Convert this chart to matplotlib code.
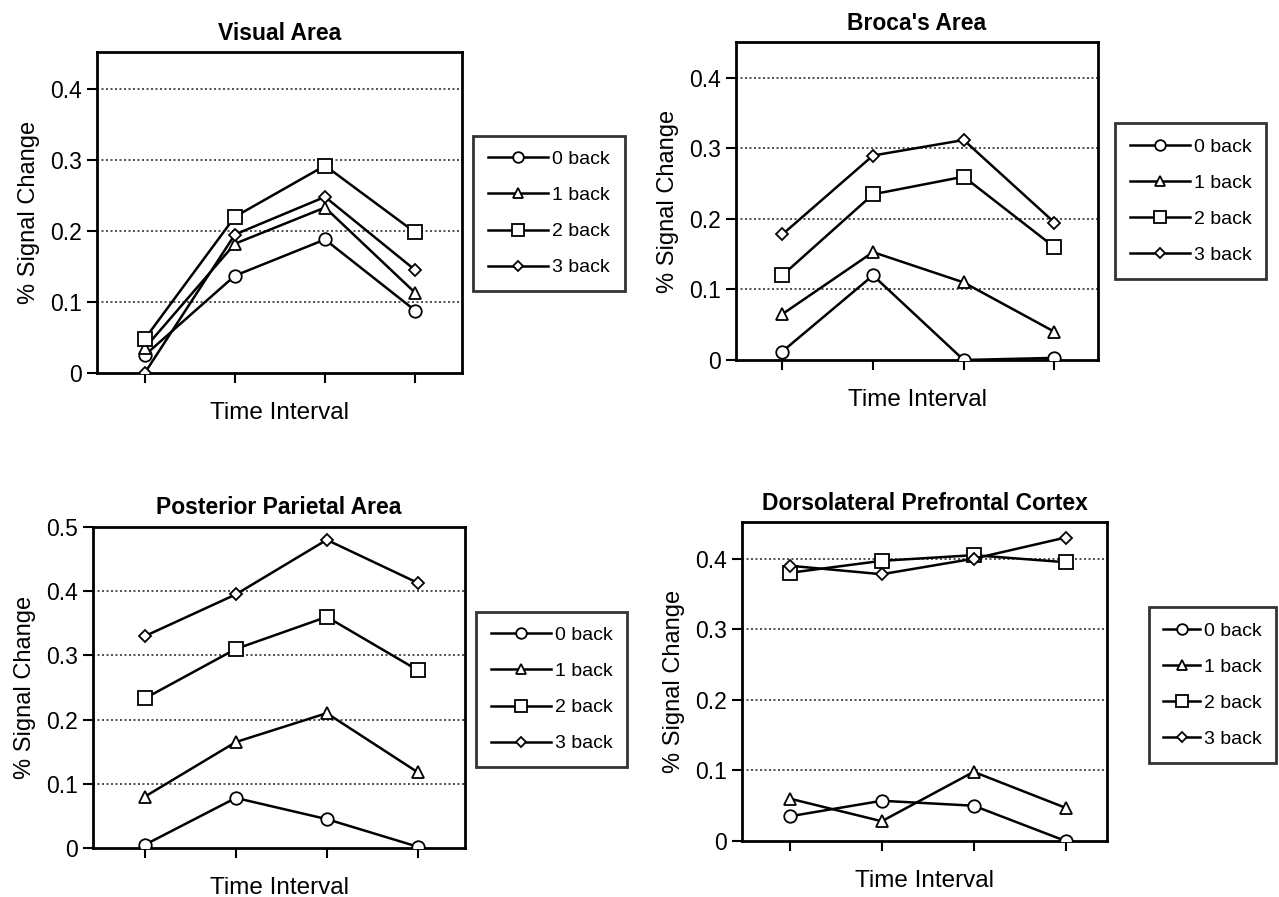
import numpy as np
import matplotlib
matplotlib.use("Agg")
import matplotlib.pyplot as plt

plt.rcParams['font.family'] = ['Liberation Sans', 'DejaVu Sans']

labels = ['0 back', '1 back', '2 back', '3 back']
times = [0, 1, 2, 3]

visual = [
    [0.025, 0.137, 0.188, 0.088],
    [0.035, 0.182, 0.233, 0.113],
    [0.048, 0.220, 0.292, 0.198],
    [0.000, 0.195, 0.248, 0.145],
]
broca = [
    [0.012, 0.120, 0.000, 0.003],
    [0.065, 0.153, 0.110, 0.040],
    [0.120, 0.235, 0.260, 0.160],
    [0.178, 0.290, 0.312, 0.195],
]
parietal = [
    [0.005, 0.078, 0.045, 0.002],
    [0.080, 0.165, 0.210, 0.118],
    [0.233, 0.310, 0.360, 0.277],
    [0.330, 0.395, 0.480, 0.413],
]
dlpfc = [
    [0.035, 0.057, 0.050, 0.000],
    [0.060, 0.028, 0.098, 0.047],
    [0.380, 0.397, 0.405, 0.395],
    [0.390, 0.378, 0.400, 0.430],
]

markers = ['o', '^', 's', 'D']
msizes = [9, 9, 10.5, 6.5]

W, H = 1279, 897
fig = plt.figure(figsize=(W / 100, H / 100), dpi=100)


def px_axes(x0, y0, x1, y1):
    # pixel box (top-left origin) -> figure axes
    return fig.add_axes([x0 / W, 1 - y1 / H, (x1 - x0) / W, (y1 - y0) / H])


def panel(box, legbox, data, title, ymax, yticks, yticklabels, xpos, hlen=3.1):
    ax = px_axes(*box)
    for i in range(4):
        ax.plot(times, data[i], color='black', lw=1.8, marker=markers[i],
                ms=msizes[i], mfc='white', mec='black', mew=1.3,
                label=labels[i], zorder=3)
    ax.set_xlim(xpos[0], xpos[1])
    ax.set_ylim(0, ymax)
    ax.set_yticks(yticks)
    ax.set_yticklabels(yticklabels, fontsize=16.5)
    ax.set_xticks(times)
    ax.set_xticklabels([])
    for y in yticks[1:]:
        ax.axhline(y, color='#333333', lw=1.2, ls=(0, (1.2, 1.5)), zorder=1)
    for s in ax.spines.values():
        s.set_linewidth(2)
    ax.tick_params(axis='both', direction='out', length=7, width=1.5,
                   pad=4)
    ax.set_xlabel('Time Interval', fontsize=17.5, labelpad=10)
    ax.set_ylabel('% Signal Change', fontsize=17, labelpad=7)
    ax.set_title(title, fontsize=16.5, fontweight='bold', pad=9)
    lx0, ly0, lx1, ly1 = legbox
    leg = ax.legend(loc='center', bbox_to_anchor=((lx0 + lx1) / 2 / W, 1 - (ly0 + ly1) / 2 / H),
                    bbox_transform=fig.transFigure, fontsize=14, frameon=True,
                    fancybox=False, edgecolor='black', handlelength=hlen,
                    handletextpad=0.2, labelspacing=0.95, borderpad=0.75,
                    borderaxespad=0, markerscale=0.85)
    leg.get_frame().set_linewidth(2)
    return ax


panel((97, 52, 462, 373), (476, 133, 622, 294), visual, 'Visual Area',
      0.452, [0, 0.1, 0.2, 0.3, 0.4], ['0', '0.1', '0.2', '0.3', '0.4'], (-0.53, 3.52))
panel((736, 42, 1098, 360), (1113, 122, 1268, 280), broca, "Broca's Area",
      0.451, [0, 0.1, 0.2, 0.3, 0.4], ['0', '0.1', '0.2', '0.3', '0.4'], (-0.51, 3.48))
panel((93, 527, 465, 848), (478, 609, 625, 770), parietal, 'Posterior Parietal Area',
      0.5, [0, 0.1, 0.2, 0.3, 0.4, 0.5], ['0', '0.1', '0.2', '0.3', '0.4', '0.5'], (-0.57, 3.52))
panel((742, 522, 1107, 841), (1152, 600, 1273, 770), dlpfc, 'Dorsolateral Prefrontal Cortex',
      0.452, [0, 0.1, 0.2, 0.3, 0.4], ['0', '0.1', '0.2', '0.3', '0.4'], (-0.52, 3.45), hlen=1.9)

fig.savefig('out.png', dpi=100)
